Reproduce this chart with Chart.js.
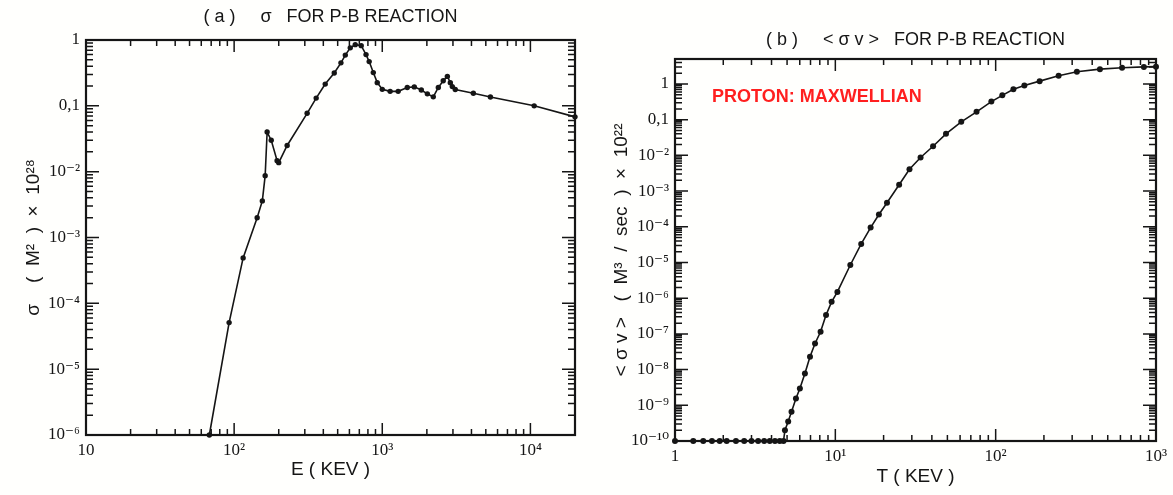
<!DOCTYPE html>
<html>
<head>
<meta charset="utf-8">
<script src="https://cdn.jsdelivr.net/npm/chart.js@4.4.1/dist/chart.umd.min.js"></script>
<style>
  html, body { margin: 0; padding: 0; background: #fffffd; }
  body { width: 1173px; height: 495px; position: relative; overflow: hidden; }
  .panel { position: absolute; top: 0; height: 495px; }
  #panelA { left: 0; width: 600px; }
  #panelB { left: 600px; width: 573px; }
</style>
</head>
<body>
<div class="panel" id="panelA"><canvas id="chartA" width="600" height="495"></canvas></div>
<div class="panel" id="panelB"><canvas id="chartB" width="573" height="495"></canvas></div>
<script>
// (a) p-11B cross section, sigma in units of 1e-28 m^2
const energyKeV = [68, 92.5, 115, 143, 155, 162, 167, 178, 195, 200, 228, 311, 358, 412,
  474, 526, 563, 608, 657, 721, 777, 816, 870, 925, 1000, 1130, 1280, 1475, 1645, 1835,
  2015, 2210, 2390, 2580, 2750, 2880, 2970, 3110, 4120, 5370, 10600, 20000];
const sigma = [1e-6, 5.1e-5, 4.9e-4, 2.0e-3, 3.6e-3, 8.7e-3, 0.040, 0.030, 0.0147, 0.0137,
  0.025, 0.077, 0.131, 0.214, 0.315, 0.45, 0.59, 0.76, 0.85, 0.82, 0.60, 0.47, 0.32, 0.225,
  0.178, 0.166, 0.166, 0.19, 0.194, 0.174, 0.152, 0.137, 0.19, 0.24, 0.28, 0.225, 0.196,
  0.177, 0.155, 0.136, 0.10, 0.068];

// (b) Maxwellian-averaged reactivity, <sigma v> in units of 1e-22 m^3/s
const temperatureKeV = [1, 1.3, 1.5, 1.7, 1.9, 2.1, 2.4, 2.7, 3.0, 3.3, 3.6, 3.9, 4.2, 4.5,
  4.75, 4.85, 5.08, 5.33, 5.68, 6.01, 6.46, 6.95, 7.47, 8.09, 8.75, 9.48, 10.3, 12.4, 14.5,
  16.6, 18.7, 21, 25, 29, 34, 40.7, 49, 61, 76, 94, 110, 129, 151, 188, 247, 321, 447, 614,
  840, 1000];
const reactivity = [1e-10, 1e-10, 1e-10, 1e-10, 1e-10, 1e-10, 1e-10, 1e-10, 1e-10, 1e-10,
  1e-10, 1e-10, 1e-10, 1e-10, 1e-10, 2.0e-10, 3.5e-10, 6.6e-10, 1.55e-9, 2.95e-9, 7.8e-9,
  2.3e-8, 5.4e-8, 1.15e-7, 3.4e-7, 7.9e-7, 1.5e-6, 8.5e-6, 3.3e-5, 9.5e-5, 2.2e-4, 4.7e-4,
  1.5e-3, 4.1e-3, 8.7e-3, 0.018, 0.040, 0.087, 0.166, 0.32, 0.48, 0.71, 0.91, 1.2, 1.7,
  2.2, 2.6, 2.85, 3.0, 3.05];

// tick labels at the decades
const xLabelsA = { 10: '10', 100: '10²', 1000: '10³', 10000: '10⁴' };
const yLabelsA = { 1: '1', 0.1: '0,1', 1e-2: '10⁻²', 1e-3: '10⁻³', 1e-4: '10⁻⁴',
  1e-5: '10⁻⁵', 1e-6: '10⁻⁶' };
const xLabelsB = { 1: '1', 10: '10¹', 100: '10²', 1000: '10³' };
const yLabelsB = { 1: '1', 0.1: '0,1', 1e-2: '10⁻²', 1e-3: '10⁻³', 1e-4: '10⁻⁴',
  1e-5: '10⁻⁵', 1e-6: '10⁻⁶', 1e-7: '10⁻⁷', 1e-8: '10⁻⁸', 1e-9: '10⁻⁹', 1e-10: '10⁻¹⁰' };

const INK = '#151515';
const SERIF = "'Liberation Serif', 'DejaVu Serif', serif";
const SANS = "'Liberation Sans', 'DejaVu Sans', sans-serif";

// 1..9 x 10^n ticks between min and max, decades flagged major
function logTicks(scale) {
  const min = scale.options.min, max = scale.options.max;
  const out = [];
  for (let d = Math.floor(Math.log10(min)); d <= Math.ceil(Math.log10(max)); d++) {
    for (let m = 1; m < 10; m++) {
      const v = parseFloat((m * Math.pow(10, d)).toPrecision(6));
      if (v >= min * 0.9999 && v <= max * 1.0001) out.push({ value: v, major: m === 1 });
    }
  }
  scale.ticks = out;
}

function labelFrom(table) {
  return function (value) {
    const key = Object.keys(table).find(k => Math.abs(Math.log10(+k) - Math.log10(value)) < 1e-6);
    return key !== undefined ? table[key] : '';
  };
}

// inward ticks on all four sides plus the frame
const frameTicks = {
  id: 'frameTicks',
  afterDraw(chart) {
    const { ctx, chartArea: a, scales: { x, y } } = chart;
    ctx.save();
    ctx.strokeStyle = INK;
    ctx.lineWidth = 1.5;
    ctx.beginPath();
    x.ticks.forEach(t => {
      const px = x.getPixelForValue(t.value);
      const len = t.major ? 12 : 6;
      ctx.moveTo(px, a.bottom); ctx.lineTo(px, a.bottom - len);
      ctx.moveTo(px, a.top); ctx.lineTo(px, a.top + len);
    });
    y.ticks.forEach(t => {
      const py = y.getPixelForValue(t.value);
      const len = t.major ? 13 : 7;
      ctx.moveTo(a.left, py); ctx.lineTo(a.left + len, py);
      ctx.moveTo(a.right, py); ctx.lineTo(a.right - len, py);
    });
    ctx.stroke();
    ctx.lineWidth = 2.2;
    ctx.strokeRect(a.left, a.top, a.right - a.left, a.bottom - a.top);
    ctx.restore();
  }
};

// free text inside the plot area
const panelNote = {
  id: 'panelNote',
  afterDraw(chart, args, opts) {
    if (!opts.text) return;
    const { ctx, chartArea: a } = chart;
    ctx.save();
    ctx.fillStyle = opts.color;
    ctx.font = opts.font;
    ctx.textBaseline = 'middle';
    ctx.fillText(opts.text, a.left + opts.dx, a.top + opts.dy);
    ctx.restore();
  }
};

function panel(canvasId, cfg) {
  const points = cfg.xs.map((v, i) => ({ x: v, y: cfg.ys[i] }));
  return new Chart(document.getElementById(canvasId), {
    type: 'scatter',
    data: {
      datasets: [{
        data: points,
        showLine: true,
        borderColor: INK,
        borderWidth: 1.6,
        pointRadius: cfg.pointRadius,
        pointBackgroundColor: INK,
        pointBorderWidth: 0,
        clip: false
      }]
    },
    options: {
      responsive: false,
      animation: false,
      layout: { padding: cfg.padding },
      plugins: {
        legend: { display: false },
        tooltip: { enabled: false },
        title: {
          display: true,
          text: cfg.title,
          fullSize: false,
          color: INK,
          font: { family: SANS, size: 18, weight: 'normal', lineHeight: 1.2 },
          padding: cfg.titlePadding
        },
        panelNote: cfg.note || {}
      },
      scales: {
        x: {
          type: 'logarithmic',
          min: cfg.xMin, max: cfg.xMax,
          grid: { display: false, drawTicks: false },
          border: { display: false },
          afterBuildTicks: logTicks,
          afterFit: s => { s.height = cfg.xAxisHeight; },
          ticks: {
            autoSkip: false, maxRotation: 0, padding: 5, color: INK,
            font: { family: SERIF, size: 17 },
            callback: labelFrom(cfg.xLabels)
          },
          title: {
            display: true, text: cfg.xTitle, color: INK,
            font: { family: SANS, size: 19, lineHeight: 1.2 },
            padding: { top: 0, bottom: cfg.xTitleBottom }
          }
        },
        y: {
          type: 'logarithmic',
          min: cfg.yMin, max: cfg.yMax,
          grid: { display: false, drawTicks: false },
          border: { display: false },
          afterBuildTicks: logTicks,
          afterFit: s => { s.width = cfg.yAxisWidth; },
          ticks: {
            autoSkip: false, padding: 6, color: INK,
            font: { family: SERIF, size: 17 },
            callback: labelFrom(cfg.yLabels)
          },
          title: {
            display: true, text: cfg.yTitle, color: INK,
            font: { family: SANS, size: 19, lineHeight: 1.2 },
            padding: { top: 0, bottom: 0 }
          }
        }
      }
    },
    plugins: [frameTicks, panelNote]
  });
}

panel('chartA', {
  xs: energyKeV, ys: sigma,
  xMin: 10, xMax: 20000, yMin: 1e-6, yMax: 1,
  xLabels: xLabelsA, yLabels: yLabelsA,
  pointRadius: 2.7,
  title: '( a )     σ   FOR P-B REACTION',
  titlePadding: { top: 6, bottom: 12.4 },
  padding: { left: 22, right: 25, top: 0, bottom: 0 },
  yAxisWidth: 64, xAxisHeight: 60, xTitleBottom: 14,
  xTitle: 'E ( KEV )',
  yTitle: 'σ    (  M²  )  ×  10²⁸'
});

panel('chartB', {
  xs: temperatureKeV, ys: reactivity,
  xMin: 1, xMax: 1000, yMin: 1e-10, yMax: 5,
  xLabels: xLabelsB, yLabels: yLabelsB,
  pointRadius: 3,
  title: '( b )     < σ v >   FOR P-B REACTION',
  titlePadding: { top: 29, bottom: 8.4 },
  padding: { left: 10, right: 17, top: 0, bottom: 0 },
  yAxisWidth: 65, xAxisHeight: 54, xTitleBottom: 7,
  xTitle: 'T ( KEV )',
  yTitle: '< σ v >   (  M³  /  sec  )  ×  10²²',
  note: {
    text: 'PROTON: MAXWELLIAN',
    color: '#ff1f1f',
    font: "bold 18px 'Liberation Sans', sans-serif",
    dx: 37, dy: 38
  }
});
</script>
</body>
</html>
